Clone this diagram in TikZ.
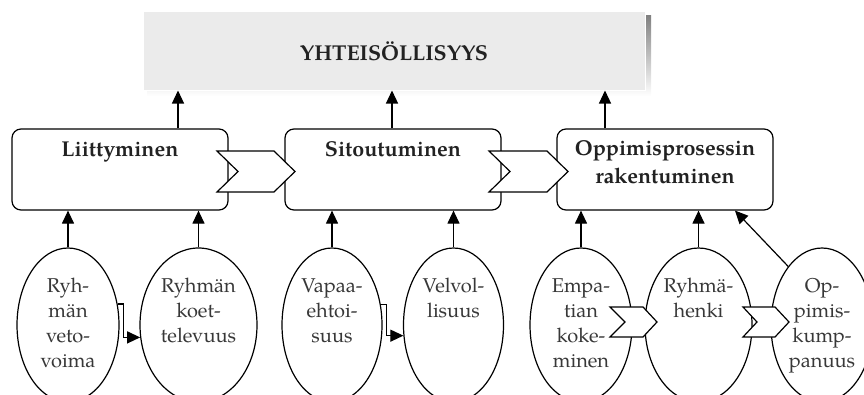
\documentclass[tikz,border=0pt]{standalone}
\usepackage{fontspec}
\setmainfont{texgyrepagella}[Extension=.otf,UprightFont=*-regular,BoldFont=*-bold,ItalicFont=*-italic,BoldItalicFont=*-bolditalic]
\usetikzlibrary{arrows.meta,shapes.geometric,calc}
\definecolor{topfill}{HTML}{EBEBEB}
\definecolor{shade}{HTML}{A4A4A4}
\definecolor{ink}{HTML}{222222}
\tikzset{
  proc/.style={draw, line width=1.2pt, rounded corners=9pt, minimum width=216pt, minimum height=81pt, inner sep=0pt, fill=white},
  oval/.style={draw, ellipse, line width=1.2pt, inner sep=0pt, minimum height=154pt, fill=white},
  arr/.style={line width=1.2pt, -{Triangle[length=13pt,width=12pt]}},
  chev/.style={draw, fill=white, line width=1.2pt, line join=miter},
  lbl/.style={font=\fontsize{21.5}{28}\selectfont\bfseries, text=ink, inner sep=0pt},
  etxt/.style={font=\fontsize{20}{25}\selectfont, text=ink!90, align=center, inner sep=0pt, anchor=north}
}
\begin{document}
\begin{tikzpicture}[x=1pt,y=-1pt]
\useasboundingbox (0,0) rectangle (864,394);
\clip (0,0) rectangle (864,394);

% top box with shadow
\fill[shade] (147,15) rectangle (651,96);
\node[fill=topfill, draw=white, line width=1pt, minimum width=502pt, minimum height=79pt, inner sep=0pt] (top) at (394,50.5) {};
\node[font=\fontsize{21.5}{26}\selectfont\bfseries, text=ink, anchor=base, inner sep=0pt] (tt) at (394,60) {YHTEISÖLLISYYS};

% process boxes
\node[proc] (b1) at (120,169.5) {};
\node[proc] (b2) at (393,169.5) {};
\node[proc] (b3) at (665,169.5) {};
\node[lbl, anchor=base] (l1) at (120,156) {Liittyminen};
\node[lbl, anchor=base] (l2) at (393,156) {Sitoutuminen};
\node[lbl, align=center, anchor=north] (l3) at (665,135.4) {\strut Oppimisprosessin\\rakentuminen};

% big chevrons
\draw[chev] (217,151) -- (274,151) -- (295,171.5) -- (274,192) -- (217,192) -- (238,171.5) -- cycle;
\draw[chev] (489,151) -- (547,151) -- (568,171.5) -- (547,192) -- (489,192) -- (510,171.5) -- cycle;

% arrows to top box
\coordinate (x1) at (178,0);
\coordinate (x2) at (392,0);
\coordinate (x3) at (605,0);
\draw[arr] (x1 |- b1.north) -- (x1 |- top.south);
\draw[arr] (x2 |- b2.north) -- (x2 |- top.south);
\draw[arr] (x3 |- b3.north) -- (x3 |- top.south);

% ellipses
\node[oval, minimum width=102pt] (e1) at (68,325) {};
\node[oval, minimum width=117pt] (e2) at (198.5,325) {};
\node[oval, minimum width=100pt] (e3) at (332,325) {};
\node[oval, minimum width=100pt] (e4) at (453.5,325) {};
\node[oval, minimum width=102pt] (e5) at (581,325) {};
\node[oval, minimum width=107pt] (e6) at (698.5,325) {};
\node[oval, minimum width=102pt] (e7) at (822,325) {};

\node[etxt] (t1) at (68,274.5) {\strut Ryh-\\män\\veto-\\voima};
\node[etxt] (t2) at (198.5,274.5) {\strut Ryhmän\\koet-\\televuus};
\node[etxt] (t3) at (332,274.5) {\strut Vapaa-\\ehtoi-\\suus};
\node[etxt] (t4) at (453.5,274.5) {\strut Velvol-\\lisuus};
\node[etxt] (t5) at (581,274.5) {\strut Empa-\\tian\\koke-\\minen};
\node[etxt] (t6) at (698.5,274.5) {\strut Ryhmä-\\henki};
\node[etxt] (t7) at (822,274.5) {\strut Op-\\pimis-\\kump-\\panuus};

% small chevrons
\draw[chev] (610,307) -- (643,307) -- (657,322) -- (643,337) -- (610,337) -- (625,322) -- cycle;
\draw[chev] (743,307) -- (775,307) -- (789,322) -- (775,337) -- (743,337) -- (757,322) -- cycle;

% arrows from ellipses to boxes
\draw[arr] (e1.north) -- (e1.north |- b1.south);
\draw[arr] (e2.north) -- (e2.north |- b1.south);
\draw[arr] (e3.north) -- (e3.north |- b2.south);
\draw[arr] (e4.north) -- (e4.north |- b2.south);
\draw[arr] (e5.north) -- (e5.north |- b3.south);
\draw[arr] (e6.north) -- (e6.north |- b3.south);
\coordinate (x7) at (735,0);
\draw[arr] (e7.120) -- (x7 |- b3.south);

% elbow arrows between ellipses
\draw[arr] (e1.23) -- ++(6,0) |- (e2.192);
\draw[arr] (e3.23) -- ++(6,0) |- (e4.192);
\end{tikzpicture}
\end{document}
